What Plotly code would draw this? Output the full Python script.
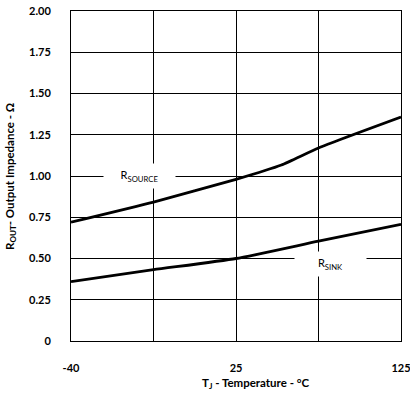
import plotly.graph_objects as go

# x-axis: labelled category slots and unlabelled gridline slots
x_tick_vals = [0, 2, 4]
x_tick_labels = ["-40", "25", "125"]
x_minor_grid = [1, 3]

# y-axis ticks
y_tick_vals = [0, 0.25, 0.5, 0.75, 1.0, 1.25, 1.5, 1.75, 2.0]
y_tick_labels = ["0", "0.25", "0.50", "0.75", "1.00", "1.25", "1.50", "1.75", "2.00"]

# R_SOURCE curve (x in slot units)
source_x = [0, 1, 2, 2.55, 3, 4]
source_y = [0.72, 0.842, 0.98, 1.067, 1.17, 1.357]

# R_SINK curve
sink_x = [0, 1, 2, 3, 4]
sink_y = [0.36, 0.432, 0.50, 0.605, 0.707]

FONT = "Lato"

fig = go.Figure()
fig.add_trace(go.Scatter(x=source_x, y=source_y, mode="lines",
                         line=dict(color="black", width=2.8, shape="spline", smoothing=0.5),
                         showlegend=False, hoverinfo="skip"))
fig.add_trace(go.Scatter(x=sink_x, y=sink_y, mode="lines",
                         line=dict(color="black", width=2.8, shape="spline", smoothing=0.5),
                         showlegend=False, hoverinfo="skip"))

axis_common = dict(showgrid=True, gridcolor="black", gridwidth=1,
                   showline=True, linecolor="black", linewidth=1, mirror=True,
                   zeroline=False, ticks="", automargin=False, ticklabeloverflow="allow",
                   tickfont=dict(family=FONT, size=11, color="black", weight="bold"))

fig.update_xaxes(range=[0, 4], tickmode="array", tickvals=x_tick_vals, ticktext=x_tick_labels,
                 minor=dict(tickmode="array", tickvals=x_minor_grid, showgrid=True,
                            gridcolor="black", gridwidth=1, ticks=""),
                 ticklabelstandoff=17, **axis_common)
fig.update_yaxes(range=[0, 2], tickmode="array", tickvals=y_tick_vals, ticktext=y_tick_labels,
                 ticklabelstandoff=17, **axis_common)

# Curve labels with white background that breaks the gridlines
fig.add_annotation(x=0.83, y=1.0, xref="x", yref="y", text="R<sub>SOURCE</sub>",
                   showarrow=False, bgcolor="white", width=71, height=24, borderpad=0,
                   font=dict(family=FONT, size=11, color="black"))
fig.add_annotation(x=3.145, y=0.464, xref="x", yref="y", text="R<sub>SINK</sub>",
                   showarrow=False, bgcolor="white", width=71, height=24, borderpad=0,
                   font=dict(family=FONT, size=11, color="black"))

# Axis titles
fig.add_annotation(x=0.56, y=-0.128, xref="paper", yref="paper",
                   text="T<sub>J</sub> - Temperature - °C", showarrow=False,
                   xanchor="center", yanchor="middle",
                   font=dict(family=FONT, size=11.5, color="black", weight="bold"))
fig.add_annotation(x=-0.185, y=0.5, xref="paper", yref="paper",
                   text="R<sub>OUT</sub>- Output Impedance - Ω", showarrow=False,
                   textangle=-90, xanchor="center", yanchor="middle",
                   font=dict(family=FONT, size=11.5, color="black", weight="bold"))

fig.update_layout(width=410, height=393,
                  margin=dict(l=71, r=9, t=11, b=52),
                  paper_bgcolor="white", plot_bgcolor="white")

fig.write_html("out.html", config={"displayModeBar": False},
               post_script="document.body.style.margin='0';document.body.style.padding='0';")
